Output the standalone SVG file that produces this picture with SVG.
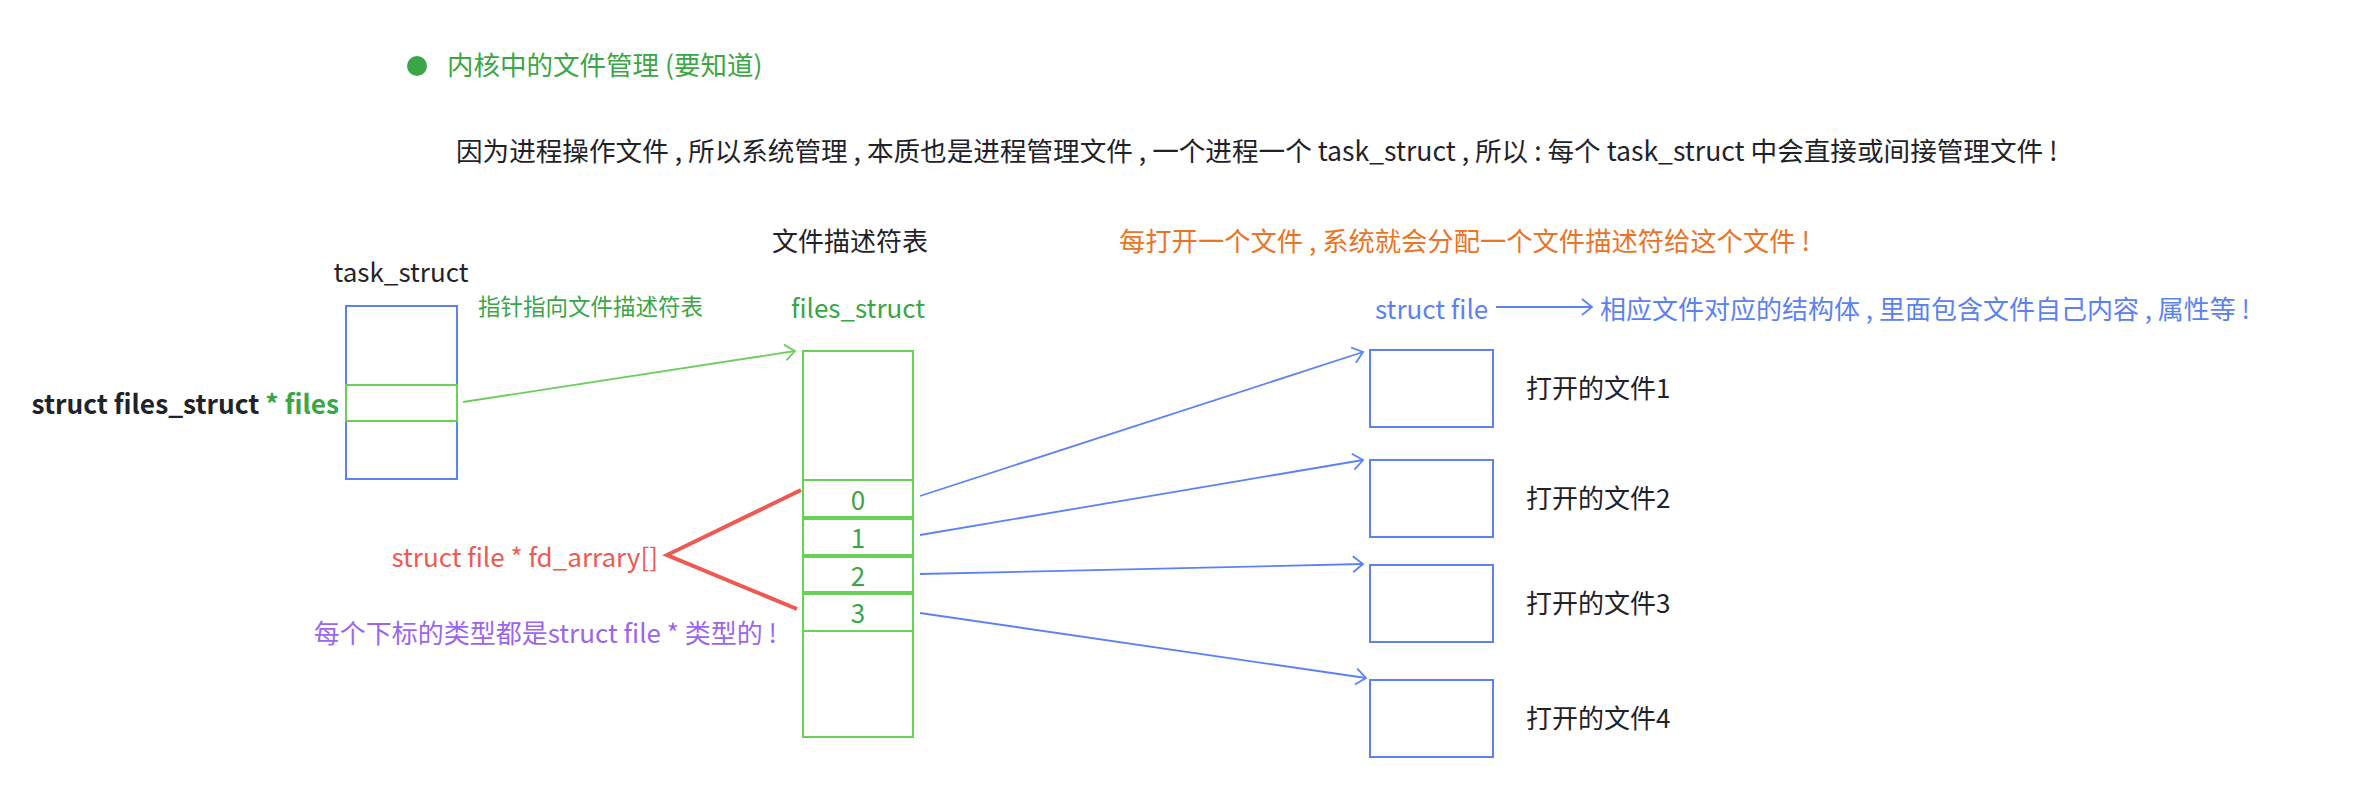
<svg xmlns="http://www.w3.org/2000/svg" width="2359" height="811" viewBox="0 0 2359 811">
<style>
text{font-family:"Noto Sans CJK SC","Noto Sans",sans-serif;font-size:26px;fill:#1f2329}
.g{fill:#3aa646}.b{fill:#5b82f2}.r{fill:#ec5a52}.p{fill:#9b66ef}.o{fill:#ea7425}
.bold{font-weight:bold;font-size:26.3px}
.bbox{fill:none;stroke:#5b82f5;stroke-width:2}
.gbox{fill:none;stroke:#6ad05a;stroke-width:2}
.bl{fill:none;stroke:#5b82f5;stroke-width:1.8}
.gl{fill:none;stroke:#6ad05a;stroke-width:1.8}
.rl{fill:none;stroke:#ec5a52;stroke-width:4;stroke-linejoin:miter}
</style>
<defs>
<marker id="ab" viewBox="-12 -10 14 20" markerWidth="14" markerHeight="20" refX="0" refY="0" orient="auto" markerUnits="userSpaceOnUse"><path d="M-10,-8 L0,0 L-10,8" fill="none" stroke="#5b82f5" stroke-width="1.8"/></marker>
<marker id="ag" viewBox="-12 -10 14 20" markerWidth="14" markerHeight="20" refX="0" refY="0" orient="auto" markerUnits="userSpaceOnUse"><path d="M-10,-8 L0,0 L-10,8" fill="none" stroke="#6ad05a" stroke-width="1.8"/></marker>
</defs>
<rect width="2359" height="811" fill="#fff"/>

<g id="header">
<circle cx="417" cy="66" r="10" fill="#3aa646"/>
<text x="447" y="75" class="g" style="font-size:26.5px">内核中的文件管理 (要知道)</text>
<text x="456" y="161" style="font-size:26.6px">因为进程操作文件 , 所以系统管理 , 本质也是进程管理文件 , 一个进程一个 task_struct , 所以 : 每个 task_struct 中会直接或间接管理文件 !</text>
</g>

<g id="task_struct">
<text x="401" y="282" text-anchor="middle">task_struct</text>
<rect class="bbox" x="346" y="306" width="111" height="173"/>
<rect class="gbox" x="346" y="385" width="111" height="36"/>
<text x="339" y="414" text-anchor="end" class="bold">struct files_struct <tspan class="g">* files</tspan></text>
</g>

<g id="pointer_label">
<text x="478" y="315" class="g" style="font-size:22.5px">指针指向文件描述符表</text>
</g>

<g id="files_struct">
<text x="772" y="251">文件描述符表</text>
<text x="858" y="318" text-anchor="middle" class="g">files_struct</text>
<rect class="gbox" x="803" y="351" width="110" height="386"/>
<line x1="803" y1="480" x2="913" y2="480" stroke="#6ad05a" stroke-width="2"/>
<line x1="803" y1="518" x2="913" y2="518" stroke="#6ad05a" stroke-width="4"/>
<line x1="803" y1="556" x2="913" y2="556" stroke="#6ad05a" stroke-width="4"/>
<line x1="803" y1="593" x2="913" y2="593" stroke="#6ad05a" stroke-width="4"/>
<line x1="803" y1="631" x2="913" y2="631" stroke="#6ad05a" stroke-width="2"/>
<text x="858" y="510" text-anchor="middle" class="g">0</text>
<text x="858" y="548" text-anchor="middle" class="g">1</text>
<text x="858" y="586" text-anchor="middle" class="g">2</text>
<text x="858" y="623" text-anchor="middle" class="g">3</text>
</g>

<g id="fd_array_label">
<text x="658" y="567" text-anchor="end" class="r">struct file * fd_arrary[]</text>
<text x="777" y="643" text-anchor="end" class="p">每个下标的类型都是struct file * 类型的 !</text>
</g>

<g id="note_orange">
<text x="1119" y="251" class="o" style="font-size:26.3px">每打开一个文件 , 系统就会分配一个文件描述符给这个文件 !</text>
</g>

<g id="struct_file_note">
<text x="1375" y="319" class="b">struct file</text>
<text x="1600" y="319" class="b">相应文件对应的结构体 , 里面包含文件自己内容 , 属性等 !</text>
</g>

<g id="file1"><rect class="bbox" x="1370" y="350" width="123" height="77"/><text x="1526" y="398">打开的文件1</text></g>
<g id="file2"><rect class="bbox" x="1370" y="460" width="123" height="77"/><text x="1526" y="508">打开的文件2</text></g>
<g id="file3"><rect class="bbox" x="1370" y="565" width="123" height="77"/><text x="1526" y="613">打开的文件3</text></g>
<g id="file4"><rect class="bbox" x="1370" y="680" width="123" height="77"/><text x="1526" y="728">打开的文件4</text></g>

<g id="connectors">
<line class="gl" x1="463" y1="402" x2="795" y2="351" marker-end="url(#ag)"/>
<polyline class="rl" points="801,490 667,555 797,609"/>
<line class="bl" x1="920" y1="496" x2="1363" y2="352" marker-end="url(#ab)"/>
<line class="bl" x1="920" y1="535" x2="1363" y2="460" marker-end="url(#ab)"/>
<line class="bl" x1="920" y1="574" x2="1363" y2="564" marker-end="url(#ab)"/>
<line class="bl" x1="920" y1="613" x2="1366" y2="678" marker-end="url(#ab)"/>
<line class="bl" x1="1496" y1="307" x2="1592" y2="307" marker-end="url(#ab)"/>
</g>
</svg>
